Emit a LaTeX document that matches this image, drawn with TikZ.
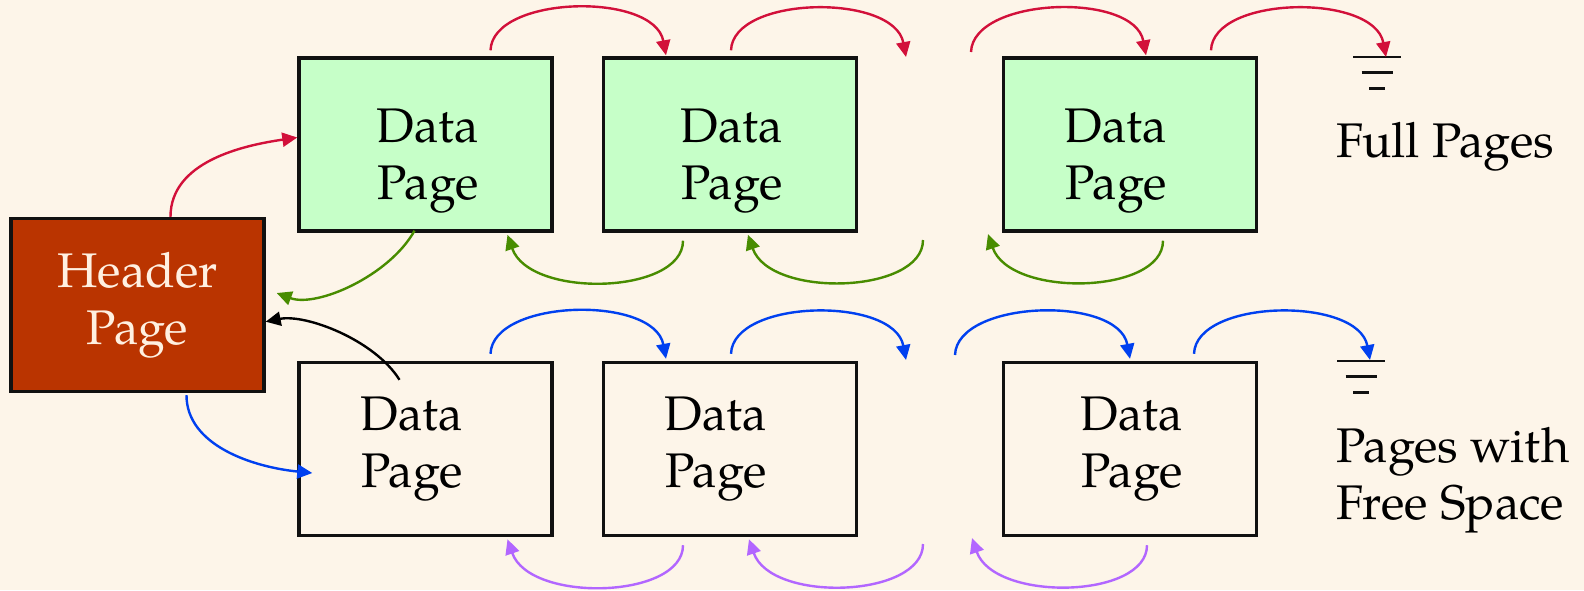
\documentclass[tikz,border=0pt]{standalone}
\usepackage{fontspec}
\setmainfont{texgyrepagella}[Extension=.otf,UprightFont=*-regular,BoldFont=*-bold,ItalicFont=*-italic,BoldItalicFont=*-bolditalic]
\usetikzlibrary{arrows.meta}

\definecolor{bgc}{RGB}{253,245,233}
\definecolor{edge}{RGB}{17,17,17}
\definecolor{hdrfill}{RGB}{186,52,0}
\definecolor{hdrtext}{RGB}{255,240,225}
\definecolor{fullfill}{RGB}{198,255,200}
\definecolor{linkred}{RGB}{210,16,58}
\definecolor{linkgreen}{RGB}{72,140,0}
\definecolor{linkblue}{RGB}{0,64,240}
\definecolor{linkpurple}{RGB}{178,102,255}

\newcommand\pagefont{\fontsize{24.3pt}{28.5pt}\selectfont}

\tikzset{
  box/.style={draw=edge, line width=1.7pt, minimum width=126.5pt, minimum height=86.5pt, inner sep=0pt},
  fullbox/.style={box, fill=fullfill},
  freebox/.style={box},
  hdrbox/.style={box, fill=hdrfill, text=hdrtext, font=\pagefont, align=center},
  lbl/.style={font=\pagefont, align=center, inner sep=0pt, text=black},
  sidelbl/.style={font=\pagefont, align=left, inner sep=0pt, text=black},
  link/.style={line width=1.2pt, -{Triangle[length=7.5pt,width=7pt]}},
  redlink/.style={link, draw=linkred},
  greenlink/.style={link, draw=linkgreen},
  bluelink/.style={link, draw=linkblue},
  purplelink/.style={link, draw=linkpurple},
  blacklink/.style={link, draw=black},
  gline/.style={draw=edge, line width=1.3pt},
  ground/.pic={\draw[gline] (-24,0)--(24,0) (-15.5,15.5)--(15.5,15.5) (-8,31.5)--(8,31.5);}
}

\begin{document}
\begin{tikzpicture}[x=0.5pt,y=-0.5pt]
\fill[bgc] (0,0) rectangle (1584,590);
\useasboundingbox (0,0) rectangle (1584,590);

% header page
\node[hdrbox] (hdr) at (137.5,305) {Header\\Page};

% full pages
\node[fullbox] (t1) at (425.5,144.5) {};
\node[fullbox] (t2) at (730,144.5) {};
\node[fullbox] (t3) at (1130,144.5) {};
\node[lbl] (t1l) at (428,161) {Data\\Page};
\node[lbl] (t2l) at (732,161) {Data\\Page};
\node[lbl] (t3l) at (1116,161) {Data\\Page};

% pages with free space
\node[freebox] (b1) at (425.5,449) {};
\node[freebox] (b2) at (730,449) {};
\node[freebox] (b3) at (1130,449) {};
\node[lbl] (b1l) at (412,449) {Data\\Page};
\node[lbl] (b2l) at (716,449) {Data\\Page};
\node[lbl] (b3l) at (1132,449) {Data\\Page};

% list terminators
\coordinate (gnd1) at (1377,57);
\coordinate (gnd2) at (1361,361);
\pic at (gnd1) {ground};
\pic at (gnd2) {ground};

\node[sidelbl, anchor=base west] (fulll) at (1336,157.3) {Full Pages};
\node[sidelbl, anchor=north west] (freel) at (1336,426.5) {Pages with\\Free Space};

% loose ends around the elided pages
\coordinate (gapTa) at (906,57);
\coordinate (gapTb) at (971,52);
\coordinate (gapGa) at (923,240);
\coordinate (gapGb) at (988,234);
\coordinate (gapBa) at (906,360);
\coordinate (gapBb) at (955,355);
\coordinate (gapPa) at (923,544);
\coordinate (gapPb) at (972,538);

% forward links, full pages
\draw[redlink] ([shift={(33,0)}]hdr.north) .. controls +(0,-55) and +(-55,8) .. ([shift={(0,-7)}]t1.west);
\draw[redlink] ([shift={(65,-6)}]t1.north) .. controls +(2,-55) and +(-12,-64) .. ([shift={(-64,-1)}]t2.north);
\draw[redlink] ([shift={(1,-6)}]t2.north) .. controls +(2,-55) and +(-12,-64) .. (gapTa);
\draw[redlink] (gapTb) .. controls +(2,-55) and +(-12,-64) .. ([shift={(16,-1)}]t3.north);
\draw[redlink] ([shift={(81,-6)}]t3.north) .. controls +(2,-55) and +(-12,-64) .. ([shift={(9,0)}]gnd1);

% backward links, full pages
\draw[greenlink] ([shift={(-11,-2)}]t1.south) .. controls +(-25,45) and +(40,15) .. ([shift={(11,-12)}]hdr.east);
\draw[greenlink] ([shift={(-47,8)}]t2.south) .. controls +(0,54) and +(22,64) .. ([shift={(82,2)}]t1.south);
\draw[greenlink] (gapGa) .. controls +(0,54) and +(22,64) .. ([shift={(18,2)}]t2.south);
\draw[greenlink] ([shift={(33,8)}]t3.south) .. controls +(0,54) and +(22,64) .. (gapGb);

% forward links, pages with free space
\draw[bluelink] ([shift={(49,2)}]hdr.south) .. controls +(0,50) and +(-60,-6) .. ([shift={(15,24)}]b1.west);
\draw[bluelink] ([shift={(65,-7)}]b1.north) .. controls +(2,-55) and +(-12,-64) .. ([shift={(-64,-2)}]b2.north);
\draw[bluelink] ([shift={(1,-7)}]b2.north) .. controls +(2,-55) and +(-12,-64) .. (gapBa);
\draw[bluelink] (gapBb) .. controls +(2,-55) and +(-12,-64) .. ([shift={(0,-2)}]b3.north);
\draw[bluelink] ([shift={(64,-7)}]b3.north) .. controls +(2,-55) and +(-12,-64) .. ([shift={(9,-1)}]gnd2);

% backward links, pages with free space
\draw[purplelink] ([shift={(-47,8)}]b2.south) .. controls +(0,54) and +(22,64) .. ([shift={(82,2)}]b1.south);
\draw[purplelink] (gapPa) .. controls +(0,54) and +(22,64) .. ([shift={(19,2)}]b2.south);
\draw[purplelink] ([shift={(17,8)}]b3.south) .. controls +(0,54) and +(22,64) .. (gapPb);

% first free page back to the header
\draw[blacklink] ([shift={(-26,19)}]b1.north) .. controls +(-25,-40) and +(40,-8) .. ([shift={(0,16.7)}]hdr.east);
\end{tikzpicture}
\end{document}
